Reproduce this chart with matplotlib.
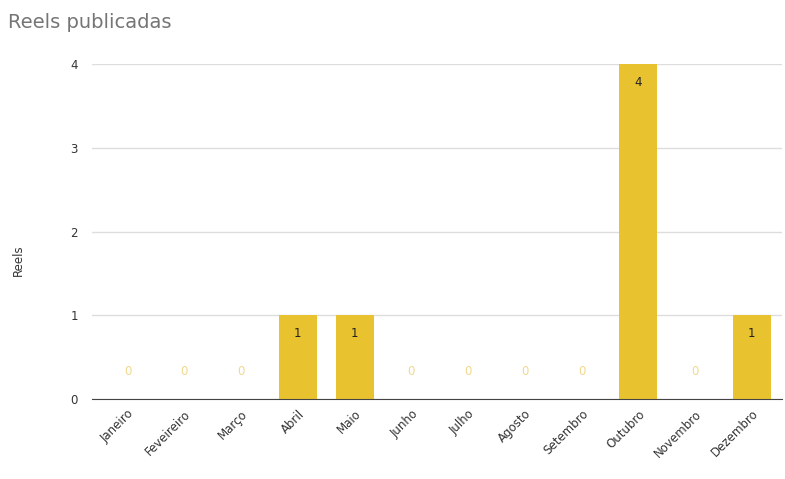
import numpy as np
import matplotlib
matplotlib.use("Agg")
import matplotlib.pyplot as plt

''' DATA '''
months = ["Janeiro", "Feveireiro", "Março", "Abril", "Maio", "Junho",
          "Julho", "Agosto", "Setembro", "Outubro", "Novembro", "Dezembro"]
reels = [0, 0, 0, 1, 1, 0, 0, 0, 0, 4, 0, 1]
y_ticks = [0, 1, 2, 3, 4]

bar_color = "#E9C32F"
zero_color = "#F0D98C"

''' PLOT '''
fig = plt.figure(figsize=(7.85, 4.79), dpi=100)
ax = fig.add_axes([0.117, 0.167, 0.879, 0.699])

x = np.arange(len(months))
ax.bar(x, reels, width=0.67, color=bar_color, zorder=3)

# value labels: inside bar top, or floating above zero
for xi, v in zip(x, reels):
    if v > 0:
        ax.annotate(str(v), (xi, v), xytext=(0, -13), textcoords="offset points",
                    ha="center", va="center", fontsize=8.5, color="#222222", zorder=4)
    else:
        ax.text(xi, 0.33, "0", ha="center", va="center", fontsize=8.5,
                color=zero_color, zorder=4)

ax.set_xlim(-0.63, 11.53)
ax.set_ylim(0, 4)
ax.set_yticks(y_ticks)
ax.set_xticks(x)
ax.set_xticklabels(months, rotation=45, ha="right", rotation_mode="anchor",
                   fontsize=8.5, color="#333333")
ax.tick_params(axis="y", labelsize=8.5, labelcolor="#333333", length=0, pad=10)
ax.tick_params(axis="x", length=0, pad=6)

ax.grid(axis="y", color="#DDDDDD", linewidth=1, zorder=0)
for s in ["top", "right", "left"]:
    ax.spines[s].set_visible(False)
ax.spines["bottom"].set_color("#444444")
ax.spines["bottom"].set_zorder(5)

ax.set_ylabel("Reels", fontsize=8.5, color="#333333")
ax.yaxis.set_label_coords(-0.097, 0.415)
fig.text(0.010, 0.952, "Reels publicadas", fontsize=14, color="#757575",
         ha="left", va="center")

fig.savefig("out.png", dpi=100)
